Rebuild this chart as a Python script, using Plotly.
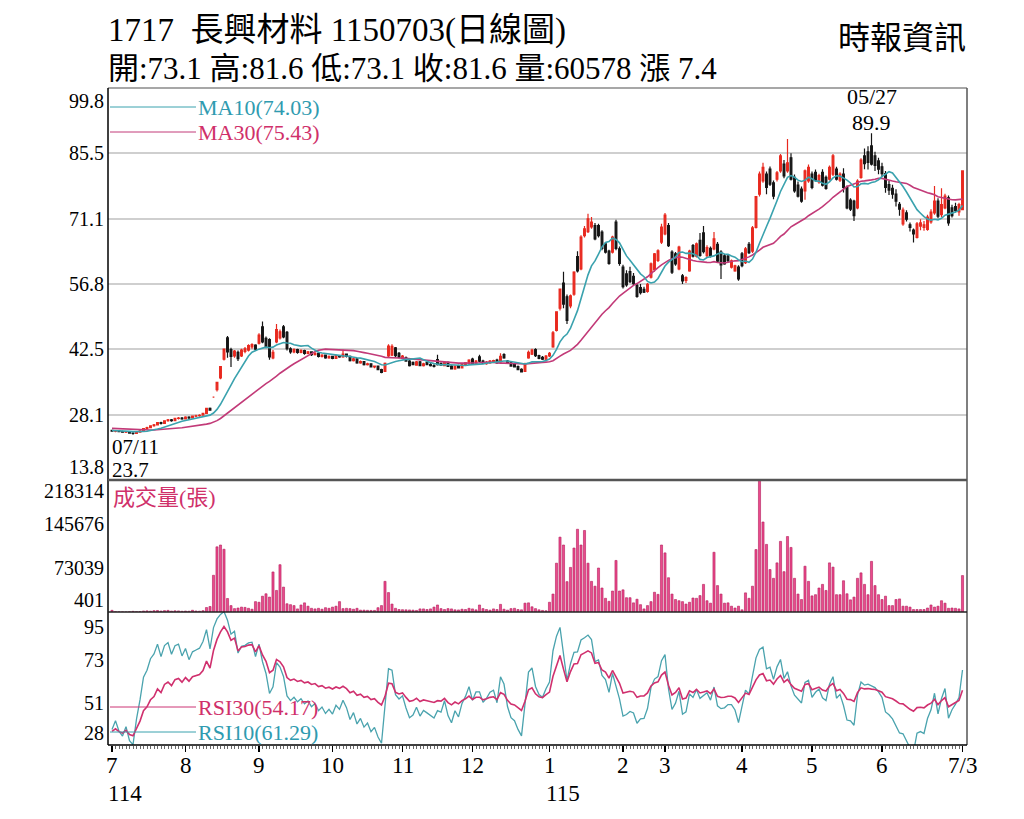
import numpy as np
import pandas as pd
import plotly.graph_objects as go

# ---------------- data ----------------
start_date, end_date = "2025-07-03", "2026-07-03"
holidays = ["2025-09-29", "2025-10-06", "2025-10-10", "2025-10-24", "2025-12-25",
            "2026-01-01", "2026-02-12", "2026-02-13", "2026-02-16", "2026-02-17",
            "2026-02-18", "2026-02-19", "2026-02-20", "2026-02-27", "2026-04-03",
            "2026-04-06", "2026-05-01", "2026-06-19"]

# closes before the first displayed day (warm-up for MA / RSI)
pre_close = [26.3, 26.1, 26.4, 26.2, 26.0, 26.1, 25.8, 25.9, 25.7, 25.9,
             25.6, 25.5, 25.7, 25.4, 25.5, 25.3, 25.4, 25.2, 25.3, 25.1,
             25.0, 25.2, 24.9, 25.0, 24.8, 24.9, 24.7, 24.8, 24.6, 24.7,
             24.8, 24.6, 24.7, 24.5, 24.6]

open_ = [24.7, 24.5, 24.6, 24.4, 24.3, 24.4, 24.1, 24.0, 24.3, 24.6,
         25.1, 25.3, 25.7, 25.9, 26.4, 26.2, 26.8, 27.0, 26.8, 27.3,
         27.4, 27.2, 27.6, 27.4, 27.8, 27.9, 28.0, 28.4, 29.5, 32.0,
         33.6, 36.2, 40.3, 45.0, 42.4, 41.0, 41.8, 41.0, 42.0, 42.3,
         43.0, 43.4, 43.8, 47.4, 44.9, 44.6, 40.6, 44.1, 45.0, 47.4,
         46.2, 42.6, 41.9, 42.4, 41.8, 42.2, 41.6, 41.9, 41.3, 41.6,
         40.9, 41.2, 40.6, 40.9, 40.5, 41.1, 40.8, 41.4, 40.9, 40.0,
         40.4, 39.5, 39.8, 39.1, 39.3, 38.6, 38.8, 38.0, 37.6, 41.0,
         41.2, 42.8, 41.6, 40.5, 40.6, 39.9, 39.6, 39.0, 39.7, 38.9,
         39.6, 39.1, 38.9, 40.2, 39.4, 38.9, 39.6, 38.8, 38.2, 38.9,
         38.4, 39.1, 39.4, 40.3, 39.4, 40.8, 39.9, 39.3, 39.5, 39.8,
         40.1, 39.7, 41.3, 39.9, 39.5, 39.2, 38.7, 38.1, 37.6, 40.6,
         41.4, 42.4, 41.1, 40.7, 40.3, 41.0, 43.0, 46.6, 51.5, 57.0,
         54.0, 52.0, 54.6, 62.8, 60.1, 67.4, 68.3, 69.3, 69.6, 69.6,
         68.2, 65.6, 64.0, 63.8, 70.4, 64.5, 60.5, 59.0, 59.5, 58.5,
         56.5, 56.0, 55.6, 55.2, 58.3, 60.0, 62.0, 66.0, 67.8, 69.6,
         63.8, 63.4, 60.1, 58.6, 57.6, 59.7, 65.2, 62.9, 66.4, 68.0,
         63.0, 64.6, 64.5, 65.5, 63.8, 63.0, 62.9, 60.5, 59.7, 60.5,
         63.4, 61.5, 65.5, 64.0, 69.2, 76.5, 79.4, 80.9, 82.0, 79.0,
         79.8, 81.6, 83.1, 81.6, 84.5, 80.2, 78.5, 77.6, 77.2, 79.4,
         80.9, 81.3, 79.2, 81.3, 80.2, 79.8, 80.9, 82.0, 79.6, 80.9,
         78.0, 75.2, 75.0, 73.5, 80.2, 84.9, 85.8, 87.1, 84.9, 83.8,
         82.5, 81.0, 78.6, 77.8, 76.5, 74.3, 70.0, 72.4, 69.8, 68.6,
         67.0, 69.5, 69.2, 68.8, 70.4, 72.4, 75.0, 72.0, 73.5, 75.7,
         73.5, 73.8, 72.6, 73.1]

high = [24.8, 24.7, 24.7, 24.6, 24.5, 24.5, 24.3, 24.4, 24.7, 25.2,
        25.5, 25.8, 26.1, 26.5, 26.6, 26.9, 27.2, 27.2, 27.4, 27.6,
        27.6, 27.8, 27.8, 27.9, 28.1, 28.2, 28.5, 29.6, 29.7, 32.0,
        35.2, 38.7, 42.5, 45.4, 42.8, 42.3, 42.2, 42.6, 43.0, 43.6,
        43.8, 43.6, 46.0, 48.6, 45.3, 44.9, 42.3, 48.0, 46.8, 47.8,
        46.5, 42.9, 42.7, 42.6, 42.5, 42.4, 42.1, 42.0, 41.8, 41.7,
        41.4, 41.3, 41.1, 41.0, 41.3, 41.2, 42.4, 41.5, 41.1, 40.6,
        40.5, 40.0, 39.9, 39.5, 39.4, 38.9, 38.9, 38.2, 39.6, 43.6,
        43.6, 43.0, 41.9, 41.2, 40.9, 40.1, 39.8, 39.9, 39.9, 39.5,
        39.8, 39.5, 39.2, 41.3, 39.6, 39.8, 39.8, 39.0, 38.9, 39.1,
        39.2, 39.6, 40.3, 40.6, 40.1, 41.3, 40.2, 39.9, 40.1, 40.2,
        40.4, 41.6, 41.6, 40.1, 39.7, 39.4, 38.9, 38.3, 39.5, 42.2,
        42.6, 42.7, 41.3, 41.0, 41.2, 41.9, 46.5, 50.7, 55.7, 59.5,
        54.5, 54.5, 59.6, 64.0, 67.5, 69.5, 72.2, 71.5, 70.2, 70.0,
        68.6, 66.0, 64.3, 67.4, 70.9, 65.0, 61.0, 59.8, 60.6, 59.2,
        56.9, 56.8, 56.2, 57.0, 61.5, 63.6, 64.4, 70.0, 72.4, 70.2,
        64.2, 63.8, 65.2, 59.0, 58.5, 64.3, 65.6, 65.9, 68.0, 69.5,
        65.3, 65.0, 68.2, 66.0, 64.2, 63.4, 63.2, 62.2, 61.0, 60.9,
        63.8, 64.9, 66.0, 69.5, 76.0, 81.5, 83.4, 81.5, 82.6, 79.5,
        81.6, 85.3, 84.0, 88.6, 85.5, 80.8, 79.3, 78.2, 81.9, 83.0,
        81.5, 81.9, 81.0, 82.0, 80.6, 82.8, 85.3, 82.5, 81.3, 82.2,
        78.4, 75.6, 75.3, 79.8, 84.4, 86.5, 87.0, 89.9, 85.8, 84.5,
        83.4, 81.6, 79.4, 78.6, 77.6, 74.8, 73.6, 73.0, 70.3, 69.0,
        70.4, 71.0, 70.6, 72.0, 73.2, 78.3, 75.6, 77.8, 76.6, 76.2,
        74.2, 74.6, 74.6, 81.6]

low = [24.4, 24.3, 24.3, 24.2, 24.1, 24.0, 23.7, 23.9, 24.2, 24.5,
       24.9, 25.2, 25.5, 25.8, 26.0, 26.1, 26.6, 26.6, 26.7, 27.1,
       27.0, 27.1, 27.2, 27.3, 27.6, 27.7, 27.9, 28.3, 29.0, 32.0,
       33.2, 35.9, 40.0, 40.6, 38.6, 40.6, 39.9, 40.8, 41.6, 42.0,
       42.6, 42.2, 43.5, 43.8, 42.7, 40.2, 40.3, 43.8, 44.6, 44.9,
       42.2, 41.5, 41.6, 41.5, 41.6, 41.3, 41.4, 41.0, 41.1, 40.7,
       40.7, 40.4, 40.4, 40.3, 40.4, 40.6, 40.6, 40.7, 39.8, 39.8,
       39.3, 39.3, 38.9, 38.9, 38.5, 38.3, 37.9, 37.2, 37.5, 40.8,
       41.0, 40.8, 40.5, 40.3, 39.8, 38.7, 39.0, 38.9, 38.8, 38.7,
       39.0, 38.7, 38.5, 38.9, 38.9, 38.8, 38.6, 38.1, 38.0, 38.3,
       38.3, 38.9, 39.2, 39.3, 39.2, 39.7, 39.3, 39.1, 39.3, 39.5,
       39.3, 39.5, 40.4, 39.3, 38.7, 38.5, 37.9, 37.4, 37.5, 40.4,
       41.2, 40.8, 40.3, 40.1, 40.1, 40.8, 42.8, 46.4, 51.0, 51.5,
       48.0, 51.5, 54.2, 59.3, 59.8, 67.0, 68.0, 68.9, 66.4, 67.0,
       64.2, 63.5, 61.0, 63.5, 64.2, 60.8, 55.8, 56.2, 57.0, 56.5,
       53.8, 54.5, 54.8, 54.9, 58.0, 59.5, 61.6, 65.6, 67.5, 64.9,
       59.0, 60.8, 59.8, 56.8, 57.0, 59.5, 62.6, 62.6, 62.8, 63.5,
       62.7, 62.6, 64.2, 61.5, 57.9, 61.0, 61.5, 60.2, 59.5, 57.5,
       60.5, 61.2, 63.4, 63.6, 69.0, 76.0, 79.0, 76.5, 78.3, 75.4,
       79.3, 81.2, 80.0, 81.2, 79.5, 76.8, 75.8, 74.6, 75.3, 79.0,
       77.6, 79.2, 78.8, 78.2, 77.5, 79.5, 80.5, 79.5, 79.2, 76.9,
       73.2, 72.8, 70.6, 73.2, 79.9, 82.0, 81.9, 82.8, 81.6, 80.9,
       80.3, 76.8, 76.3, 75.5, 73.8, 71.8, 69.6, 70.5, 68.3, 65.9,
       66.8, 68.6, 68.5, 68.5, 70.0, 72.0, 71.2, 71.5, 73.2, 69.6,
       71.4, 72.5, 71.8, 73.1]

close = [24.5, 24.6, 24.4, 24.3, 24.4, 24.1, 24.0, 24.3, 24.6, 25.1,
         25.3, 25.7, 25.9, 26.4, 26.2, 26.8, 27.0, 26.8, 27.3, 27.4,
         27.2, 27.6, 27.4, 27.8, 27.9, 28.0, 28.4, 29.5, 29.1, 32.0,
         35.2, 38.7, 42.5, 41.9, 40.9, 42.1, 40.4, 42.3, 42.6, 43.3,
         43.5, 42.5, 45.6, 44.1, 43.0, 40.8, 41.8, 46.8, 46.3, 45.2,
         42.6, 41.9, 42.4, 41.8, 42.2, 41.6, 41.9, 41.3, 41.6, 40.9,
         41.2, 40.6, 40.9, 40.5, 41.1, 40.8, 41.4, 40.9, 40.0, 40.4,
         39.5, 39.8, 39.1, 39.3, 38.6, 38.8, 38.0, 37.4, 39.4, 43.2,
         43.1, 41.1, 40.7, 41.0, 39.9, 38.9, 39.1, 39.7, 38.9, 39.3,
         39.1, 38.9, 38.7, 39.1, 39.0, 39.6, 38.7, 38.2, 38.8, 38.4,
         39.1, 39.5, 40.1, 39.4, 39.9, 39.9, 39.4, 39.6, 39.9, 40.0,
         39.5, 40.9, 40.6, 39.5, 38.8, 38.6, 38.0, 37.5, 39.2, 41.8,
         42.3, 41.1, 40.5, 40.3, 41.0, 41.6, 46.1, 50.7, 55.7, 52.4,
         48.8, 54.2, 59.4, 59.7, 67.1, 68.9, 71.1, 70.4, 66.7, 67.4,
         64.6, 63.8, 61.3, 67.1, 64.6, 61.3, 56.2, 56.6, 57.3, 56.9,
         54.1, 54.9, 55.0, 56.7, 61.2, 63.4, 64.1, 69.3, 71.9, 65.2,
         59.4, 61.2, 64.9, 57.5, 58.2, 64.0, 62.9, 65.6, 63.1, 63.9,
         64.8, 63.0, 66.7, 61.8, 61.0, 61.2, 61.9, 61.9, 60.8, 57.9,
         60.8, 64.5, 63.7, 69.1, 76.0, 80.9, 82.4, 78.0, 78.7, 76.1,
         81.2, 84.9, 80.5, 83.4, 79.8, 77.2, 76.1, 75.0, 81.6, 82.4,
         78.0, 79.6, 80.6, 78.5, 77.8, 82.4, 84.9, 79.8, 80.9, 78.0,
         73.5, 73.2, 71.8, 79.4, 84.0, 83.2, 83.5, 83.1, 82.8, 82.0,
         81.0, 78.0, 77.4, 76.5, 75.0, 73.2, 73.0, 71.0, 69.2, 67.8,
         70.0, 70.2, 69.8, 71.5, 72.6, 75.0, 71.7, 74.2, 76.1, 70.2,
         71.8, 72.9, 74.2, 81.6]

volume = [3200, 900, 700, 600, 401, 800, 1500, 900, 1200, 2100,
          2300, 1800, 2600, 2900, 2000, 2700, 3100, 1900, 2400, 2200,
          1600, 2000, 1700, 3300, 2100, 1800, 2600, 7800, 9500, 61000,
          108000, 111000, 104000, 22700, 11000, 6000, 7000, 8500, 8000, 6500,
          5000, 17500, 16500, 26500, 30500, 25000, 66500, 36000, 78500, 41500,
          14000, 12500, 11000, 5500, 12000, 15500, 10000, 6500, 5500, 6500,
          5000, 7500, 6500, 8500, 10000, 17500, 6000, 6500, 6000, 5000,
          6500, 3500, 3500, 3200, 3000, 3000, 7500, 11000, 51000, 32500,
          13500, 6500, 4500, 4200, 4000, 3800, 3500, 3000, 5500, 5500,
          4500, 5500, 8500, 12000, 6000, 4500, 6000, 5500, 4000, 3800,
          5000, 4500, 6500, 5500, 4000, 12000, 6000, 4500, 3500, 5500,
          4500, 13000, 5000, 3500, 6000, 6500, 4500, 4000, 15000, 15500,
          9000, 6000, 4000, 3000, 2500, 16500, 30000, 81000, 124000, 111000,
          50500, 74000, 106000, 137000, 111000, 135000, 81000, 51000, 43000, 73000,
          40000, 23000, 18000, 35000, 85500, 35000, 37000, 24000, 24000, 15500,
          21500, 12500, 5500, 11000, 17500, 33000, 29500, 111000, 98000, 57000,
          30000, 21000, 19000, 17500, 13500, 16500, 23500, 23000, 27500, 46000,
          19000, 15000, 99000, 44000, 30000, 15000, 15500, 10000, 7000, 10000,
          4000, 32000, 23000, 43000, 103500, 218314, 149000, 112000, 70500, 56000,
          81500, 117000, 67000, 125000, 107000, 56000, 30000, 21000, 76000, 51000,
          27000, 29000, 40000, 46000, 36000, 81500, 74500, 29000, 29000, 52000,
          30500, 20500, 25000, 56000, 65000, 46000, 29000, 84000, 44000, 29000,
          21000, 26500, 11000, 11000, 21000, 22000, 10000, 10000, 8500, 4500,
          4500, 4500, 4500, 7000, 12000, 8500, 10000, 19000, 15000, 6500,
          7000, 6500, 5500, 60578]

price_ticks = [13.8, 28.1, 42.5, 56.8, 71.1, 85.5, 99.8]
vol_ticks = [401, 73039, 145676, 218314]
rsi_ticks = [28, 51, 73, 95]
legend_ma = [("MA10", "74.03"), ("MA30", "75.43")]
legend_rsi = [("RSI30", "54.17"), ("RSI10", "61.29")]
stock_code, stock_name, chart_date = "1717", "長興材料", "1150703"

# ---------------- derived ----------------
n = len(close)
assert len(open_) == n and len(high) == n and len(low) == n and len(volume) == n, \
    (len(open_), len(high), len(low), len(close), len(volume))
dates = pd.bdate_range(start_date, end_date)
dates = dates[~dates.isin(pd.to_datetime(holidays))]
assert len(dates) == n, len(dates)
xi = np.arange(n)

allc = pd.Series(pre_close + close, dtype=float)
npre = len(pre_close)
ma10 = allc.rolling(10).mean().values[npre:]
ma30 = allc.rolling(30).mean().values[npre:]


def rsi(arr, p):
    arr = np.asarray(arr, dtype=float)
    d = np.diff(arr)
    up = np.where(d > 0, d, 0.0)
    dn = np.where(d < 0, -d, 0.0)
    out = np.full(len(arr), np.nan)
    au, ad = up[:p].mean(), dn[:p].mean()
    out[p] = 100 * au / (au + ad)
    for k in range(p, len(d)):
        au = (au * (p - 1) + up[k]) / p
        ad = (ad * (p - 1) + dn[k]) / p
        out[k + 1] = 100 * au / (au + ad) if au + ad > 0 else 50
    return out


rsi10 = rsi(allc.values, 10)[npre:]
rsi30 = rsi(allc.values, 30)[npre:]

# ---------------- layout geometry (pixels) ----------------
W, H = 1024, 819
L, R, T, B = 108, 967, 88, 745
P_BOT, V_BOT = 480, 612


def fx(px):
    return (px - L) / (R - L)


def fy(py):
    return (B - py) / (B - T)


X0 = (L - 112) / 3.5
X1 = X0 + (R - L) / 3.5

FONT = "Liberation Serif, 'Noto Sans CJK TC', serif"
RED, BLACK = "#e8281e", "#141414"
TEAL, MAG = "#3aa2ae", "#cc3575"

fig = go.Figure()
fig.add_trace(go.Candlestick(
    x=xi, open=open_, high=high, low=low, close=close,
    increasing=dict(fillcolor=RED, line=dict(color=RED, width=1.2)),
    decreasing=dict(fillcolor=BLACK, line=dict(color=BLACK, width=1.2)),
    whiskerwidth=0, showlegend=False, hoverinfo="skip", xaxis="x", yaxis="y"))
fig.add_trace(go.Scatter(x=xi, y=ma30, mode="lines", line=dict(color="#c23a78", width=1.6),
                         showlegend=False, hoverinfo="skip", xaxis="x", yaxis="y"))
fig.add_trace(go.Scatter(x=xi, y=ma10, mode="lines", line=dict(color=TEAL, width=1.6),
                         showlegend=False, hoverinfo="skip", xaxis="x", yaxis="y"))
fig.add_trace(go.Bar(x=xi, y=volume, width=0.6,
                     marker=dict(color="#ea4a8c", line=dict(color="#b41d5a", width=0.6)),
                     showlegend=False, hoverinfo="skip", xaxis="x", yaxis="y2"))
fig.add_trace(go.Scatter(x=xi, y=rsi10, mode="lines", line=dict(color="#4aa3ae", width=1.3),
                         showlegend=False, hoverinfo="skip", xaxis="x", yaxis="y3"))
fig.add_trace(go.Scatter(x=xi, y=rsi30, mode="lines", line=dict(color="#d0306e", width=1.6),
                         showlegend=False, hoverinfo="skip", xaxis="x", yaxis="y3"))

month_idx = [0] + [k for k in range(1, n) if dates[k].month != dates[k - 1].month]
month_idx = [k for k in month_idx if k < n - 3]  # last month shown as final date label

fig.update_layout(
    width=W, height=H, autosize=False,
    margin=dict(l=L, r=W - R, t=T, b=H - B, pad=0),
    paper_bgcolor="white", plot_bgcolor="white",
    bargap=0, showlegend=False,
    font=dict(family=FONT, color="black", size=20),
    xaxis=dict(domain=[0, 1], range=[X0, X1], anchor="y3", showgrid=False, zeroline=False,
               showline=False, ticks="outside", tickvals=month_idx + [n - 1], ticklen=6,
               tickcolor="black", tickwidth=1.2, showticklabels=False,
               minor=dict(tickvals=list(range(n)), ticks="outside", ticklen=3,
                          tickcolor="#444", tickwidth=0.8),
               rangeslider=dict(visible=False), fixedrange=True),
    yaxis=dict(domain=[fy(P_BOT), 1], range=[price_ticks[0], price_ticks[-1]], anchor="x",
               tickvals=price_ticks[1:-1], showticklabels=False, ticks="",
               showgrid=True, gridcolor="#cfcfcf", gridwidth=1.6, zeroline=False, fixedrange=True),
    yaxis2=dict(domain=[fy(V_BOT), fy(P_BOT)], range=[vol_ticks[0], vol_ticks[-1]], anchor="x",
                showgrid=False, showticklabels=False, ticks="", zeroline=False, fixedrange=True),
    yaxis3=dict(domain=[0, fy(V_BOT)], range=[28, 96], anchor="x",
                showgrid=False, showticklabels=False, ticks="", zeroline=False, fixedrange=True),
)

shapes = [
    dict(type="line", xref="paper", yref="paper", x0=0, x1=1, y0=1, y1=1, line=dict(color="#8a8a8a", width=1.5)),
    dict(type="line", xref="paper", yref="paper", x0=1, x1=1, y0=0, y1=1, line=dict(color="#555", width=1.5)),
    dict(type="line", xref="paper", yref="paper", x0=0, x1=0, y0=0, y1=1, line=dict(color="black", width=1.5)),
    dict(type="line", xref="paper", yref="paper", x0=0, x1=1, y0=fy(P_BOT), y1=fy(P_BOT), line=dict(color="#555", width=2.5)),
    dict(type="line", xref="paper", yref="paper", x0=0, x1=1, y0=fy(V_BOT), y1=fy(V_BOT), line=dict(color="#222", width=1.5)),
    dict(type="line", xref="paper", yref="paper", x0=0, x1=1, y0=0, y1=0, line=dict(color="black", width=1.5)),
    # legend sample lines
    dict(type="line", xref="paper", yref="paper", x0=fx(110), x1=fx(196), y0=fy(107), y1=fy(107), line=dict(color=TEAL, width=1)),
    dict(type="line", xref="paper", yref="paper", x0=fx(110), x1=fx(196), y0=fy(132), y1=fy(132), line=dict(color="#c23a78", width=1)),
    dict(type="line", xref="paper", yref="paper", x0=fx(110), x1=fx(196), y0=fy(707), y1=fy(707), line=dict(color=MAG, width=1)),
    dict(type="line", xref="paper", yref="paper", x0=fx(110), x1=fx(196), y0=fy(732), y1=fy(732), line=dict(color=TEAL, width=1)),
]
fig.update_layout(shapes=shapes)

ann = []


def txt(text, x, y, size=20, color="black", xanchor="left", yanchor="middle", xref="paper", yref="paper",
        xshift=0, yshift=0):
    ann.append(dict(text=text, x=x, y=y, xref=xref, yref=yref, xanchor=xanchor, yanchor=yanchor,
                    showarrow=False, font=dict(family=FONT, size=size, color=color),
                    xshift=xshift, yshift=yshift))


# y-axis labels
for v in price_ticks:
    ys = -13 if v == price_ticks[-1] else (13 if v == price_ticks[0] else 0)
    txt(f"{v}", 0, v, size=20, xanchor="right", yref="y", xshift=-2, yshift=ys)
for v in vol_ticks:
    ys = -11 if v == vol_ticks[-1] else (12 if v == vol_ticks[0] else 0)
    txt(f"{v}", 0, v, size=20, xanchor="right", yref="y2", xshift=-2, yshift=ys)
for v in rsi_ticks:
    ys = -13 if v == rsi_ticks[-1] else (12 if v == rsi_ticks[0] else -3)
    txt(f"{v}", 0, v, size=20, xanchor="right", yref="y3", xshift=-2, yshift=ys)

# month labels and years
for k in month_idx:
    txt(str(dates[k].month), k, fy(765), size=23, xanchor="center", xref="x")
    if k == 0 or dates[k].month == 1:
        txt(str(dates[k].year - 1911), k, fy(793), size=23, xanchor="left", xref="x", xshift=-6)
txt(f"{dates[-1].month}/{dates[-1].day}", n - 1, fy(765), size=23, xanchor="center", xref="x")

# titles
sp = "\u00a0"
txt(f"{stock_code}{sp}{sp}{stock_name}{sp}{chart_date}(日線圖)", fx(106), fy(31), size=33)
chg = close[-1] - close[-2]
txt(f"開:{open_[-1]}{sp}高:{high[-1]}{sp}低:{low[-1]}{sp}收:{close[-1]}{sp}量:{volume[-1]}{sp}漲{sp}{chg:.1f}",
    fx(106), fy(68), size=31)
txt("時報資訊", fx(968), fy(38), size=32, xanchor="right")

# legends
txt(f"{legend_ma[0][0]}({legend_ma[0][1]})", fx(196), fy(107), size=22, color="#2f9bb0")
txt(f"{legend_ma[1][0]}({legend_ma[1][1]})", fx(196), fy(132), size=22, color="#d0306a")
txt("成交量(張)", fx(111), fy(497), size=22, color="#d0306a")
txt(f"{legend_rsi[0][0]}({legend_rsi[0][1]})", fx(196), fy(707), size=22, color="#d0306a")
txt(f"{legend_rsi[1][0]}({legend_rsi[1][1]})", fx(196), fy(732), size=22, color="#2f9bb0")

# high / low markers
imax = int(np.argmax(high))
imin = int(np.argmin(low))
txt(f"{dates[imax].month:02d}/{dates[imax].day:02d}", imax, fy(96), size=22, xanchor="center", xref="x")
txt(f"{high[imax]}", imax, fy(122), size=22, xanchor="center", xref="x")
txt(f"{dates[imin].month:02d}/{dates[imin].day:02d}", fx(110), fy(447), size=21)
txt(f"{low[imin]}", fx(110), fy(470), size=21)

fig.update_layout(annotations=ann)
fig.write_html("out.html", config={"staticPlot": True})
